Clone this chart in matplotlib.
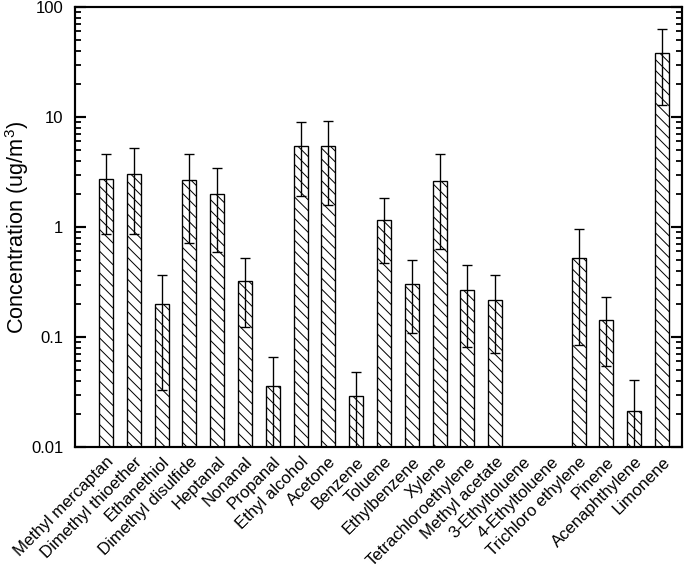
import numpy as np
import matplotlib
matplotlib.use("Agg")
import matplotlib.pyplot as plt
from matplotlib.ticker import FixedLocator, FixedFormatter

# nhãn các hợp chất
compounds = ["Methyl mercaptan", "Dimethyl thioether", "Ethanethiol", "Dimethyl disulfide",
             "Heptanal", "Nonanal", "Propanal", "Ethyl alcohol", "Acetone", "Benzene",
             "Toluene", "Ethylbenzene", "Xylene", "Tetrachloroethylene", "Methyl acetate",
             "3-Ethyltoluene", "4-Ethyltoluene", "Trichloro ethylene", "Pinene",
             "Acenaphthylene", "Limonene"]

# nồng độ trung bình (ug/m3) va do lech chuan
conc = [2.72, 3.03, 0.201, 2.66, 2.01, 0.321, 0.0356, 5.42, 5.42, 0.0289,
        1.15, 0.305, 2.63, 0.268, 0.219, np.nan, np.nan, 0.519, 0.142,
        0.0214, 38.3]
sd = [1.86, 2.16, 0.168, 1.94, 1.42, 0.197, 0.0297, 3.5, 3.85, 0.0192,
      0.68, 0.197, 2.0, 0.187, 0.148, np.nan, np.nan, 0.435, 0.088,
      0.0196, 25.4]

y_ticks = [0.01, 0.1, 1, 10, 100]
y_ticklabels = ["0.01", "0.1", "1", "10", "100"]

plt.rcParams['font.family'] = ['Liberation Sans', 'DejaVu Sans']
plt.rcParams['mathtext.fontset'] = 'custom'
plt.rcParams['mathtext.rm'] = 'Liberation Sans'
plt.rcParams['hatch.linewidth'] = 0.55

dpi = 130
fig = plt.figure(figsize=(685 / dpi, 580 / dpi), dpi=dpi)
ax = fig.add_axes([75 / 685, 1 - 447 / 580, 607 / 685, 440 / 580])

x = np.arange(len(compounds))
ax.bar(x, conc, width=0.5, color="white", edgecolor="black", linewidth=0.75,
       hatch="\\\\\\\\", zorder=2)
ax.errorbar(x, conc, yerr=sd, fmt="none", ecolor="black", elinewidth=0.75,
            capsize=2.8, capthick=0.75, zorder=3)

ax.set_yscale("log")
ax.set_ylim(0.01, 100)
ax.set_xlim(-1.115, 20.72)
ax.yaxis.set_major_locator(FixedLocator(y_ticks))
ax.yaxis.set_major_formatter(FixedFormatter(y_ticklabels))

ax.set_xticks(x)
ax.set_xticklabels(compounds, rotation=45, ha="right", rotation_mode="anchor", fontsize=9.3)
ax.tick_params(axis="x", length=0, pad=4)
ax.tick_params(axis="y", which="major", direction="in", length=6, width=1.2,
               right=True, labelsize=9.2, pad=6.5)
ax.tick_params(axis="y", which="minor", direction="in", length=3.3, width=1.0, right=True)

for s in ax.spines.values():
    s.set_linewidth(1.2)

ax.set_ylabel("Concentration (ug/m$^3$)", fontsize=12)
ax.yaxis.set_label_coords(-0.0725, 0.5)

plt.savefig("out.png", dpi=dpi)
